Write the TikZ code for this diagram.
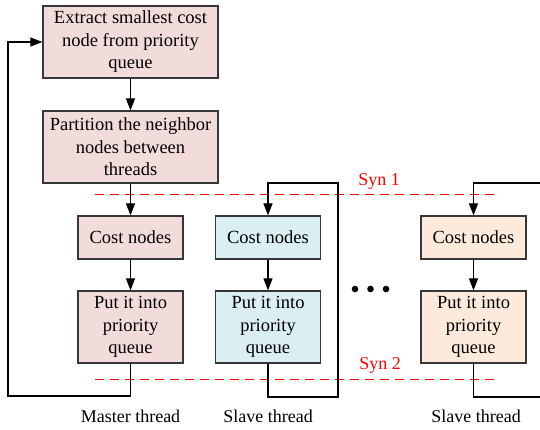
\documentclass[tikz,border=0pt]{standalone}
\usepackage{fontspec}
\setmainfont{Liberation Serif}
\usetikzlibrary{arrows.meta}
\definecolor{masterfill}{RGB}{242,220,219}
\definecolor{slavefill}{RGB}{219,238,244}
\definecolor{lastfill}{RGB}{253,234,218}
\definecolor{edgegray}{RGB}{55,55,55}
\definecolor{synred}{RGB}{255,0,0}
\tikzset{
  box/.style={draw=edgegray, line width=1.2bp, align=center, inner sep=0pt,
    font=\fontsize{18.5bp}{22.5bp}\selectfont},
  bigbox/.style={box, minimum width=175bp, minimum height=72bp},
  costbox/.style={box, minimum width=105bp, minimum height=43bp},
  putbox/.style={box, minimum width=105bp, minimum height=72bp},
  flow/.style={line width=1.1bp, -{Triangle[length=12bp,width=9bp]}},
  link/.style={line width=1.1bp},
  syncline/.style={color=synred, line width=1.2bp, dash pattern=on 9bp off 6bp},
  synclabel/.style={text=synred, font=\fontsize{18bp}{20bp}\selectfont},
  threadlabel/.style={font=\fontsize{18bp}{20bp}\selectfont},
}
\begin{document}
\begin{tikzpicture}[x=1bp, y=-1bp]
\useasboundingbox (0,0) rectangle (540,429);

% master thread steps
\node[bigbox, fill=masterfill] (ex) at (130.5,42) {Extract smallest cost\\node from priority\\queue};
\node[bigbox, fill=masterfill] (pa) at (130.5,147) {Partition the neighbor\\nodes between\\threads};
\node[costbox, fill=masterfill] (mc) at (130.5,237.5) {Cost nodes};
\node[putbox, fill=masterfill] (mp) at (130.5,327) {Put it into\\priority\\queue};

% first slave thread
\node[costbox, fill=slavefill] (sc) at (268,237.5) {Cost nodes};
\node[putbox, fill=slavefill] (sp) at (268,327) {Put it into\\priority\\queue};

% last slave thread
\node[costbox, fill=lastfill] (rc) at (473.5,237.5) {Cost nodes};
\node[putbox, fill=lastfill] (rp) at (473.5,327) {Put it into\\priority\\queue};

% thread captions
\node[threadlabel] (lm) at (130.5,416) {Master thread};
\node[threadlabel] (ls) at (268,416) {Slave thread};
\node[threadlabel] (lr) at (476,416) {Slave thread};

% synchronisation barriers
\coordinate (s1a) at (95,194.5);
\coordinate (s1b) at (500,194.5);
\coordinate (s2a) at (95,379.5);
\coordinate (s2b) at (500,379.5);
\draw[syncline] (s1a) -- (s1b) (s2a) -- (s2b);
\node[synclabel] (syn1) at (379,181) {Syn 1};
\node[synclabel] (syn2) at (380,365) {Syn 2};

% master flow
\draw[flow] (ex) -- (pa);
\draw[flow] (pa) -- (mc);
\draw[flow] (mc) -- (mp);
\coordinate (mloop) at (8,396);
\draw[flow] (mp.south) |- (mloop) |- (ex.west);

% first slave flow
\draw[flow] (sc) -- (sp);
\coordinate (sbr) at (338,397);
\coordinate (str) at (338,183);
\draw[flow] (sp.south) |- (sbr) -- (str) -| (sc.north);

% last slave flow
\draw[flow] (rc) -- (rp);
\coordinate (rin) at (540,183);
\coordinate (rout) at (540,397);
\draw[flow] (rin) -| (rc.north);
\draw[link] (rp.south) |- (rout);

% ellipsis between the threads
\fill (355,289) circle (3.3);
\fill (370.5,289) circle (3.3);
\fill (386,289) circle (3.3);
\end{tikzpicture}
\end{document}
